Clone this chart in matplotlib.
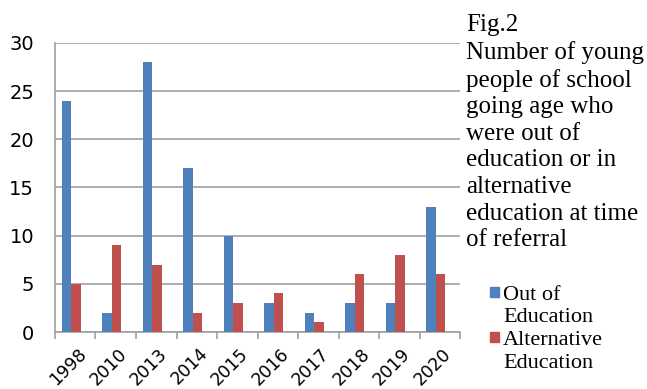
import numpy as np
import matplotlib.pyplot as plt
import matplotlib.transforms as mtransforms
from matplotlib.patches import Rectangle

years = ['1998', '2010', '2013', '2014', '2015', '2016', '2017', '2018', '2019', '2020']
out_of_education = [24, 2, 28, 17, 10, 3, 2, 3, 3, 13]
alternative_education = [5, 9, 7, 2, 3, 4, 1, 6, 8, 6]

blue = '#4f81bd'
red = '#c0504d'
grey = '#a0a0a0'

fig = plt.figure(figsize=(6.47, 3.89), dpi=100)
ax = fig.add_axes([0.085, 0.1465, 0.626, 0.743])

x = np.arange(len(years))
w = 0.235
shift = -0.1
ax.bar(x + shift - w / 2, out_of_education, w, color=blue, zorder=3)
ax.bar(x + shift + w / 2, alternative_education, w, color=red, zorder=3)

ax.set_xlim(-0.5, len(years) - 0.5)
ax.set_ylim(0, 30)
ax.set_yticks(range(0, 31, 5))
ax.yaxis.grid(True, color=grey, linewidth=1.2, zorder=0)
ax.tick_params(axis='y', length=0, pad=15, labelsize=14)

# category boundaries get the tick marks, labels sit on minor ticks
ax.set_xticks(np.arange(len(years) + 1) - 0.5)
ax.set_xticklabels([])
ax.set_xticks(x, minor=True)
ax.set_xticklabels(years, minor=True, rotation=45, ha='right', va='top',
                   rotation_mode='anchor', fontsize=12.5)
ax.tick_params(axis='x', which='major', length=5, width=1.2, color=grey, direction='out')
ax.tick_params(axis='x', which='minor', length=0, pad=9)
off = mtransforms.ScaledTranslation(2 / 100, 0, fig.dpi_scale_trans)
for lbl in ax.get_xticklabels(minor=True):
    lbl.set_transform(lbl.get_transform() + off)

for s in ['top', 'right']:
    ax.spines[s].set_visible(False)
for s in ['left', 'bottom']:
    ax.spines[s].set_color(grey)
    ax.spines[s].set_linewidth(1.2)

serif = ['Liberation Serif', 'DejaVu Serif']
caption = ("Fig.2\nNumber of young\npeople of school\ngoing age who\nwere out of\n"
           "education or in\nalternative\neducation at time\nof referral")
fig.text(466 / 647, 1 - 14 / 389, caption, family=serif, fontsize=18,
         va='top', ha='left', linespacing=1.27)

# legend
legend_labels = ['Out of\nEducation', 'Alternative\nEducation']
legend_colors = [blue, red]
ys = [287, 332]
for lab, col, yy in zip(legend_labels, legend_colors, ys):
    fig.patches.append(Rectangle((490 / 647, 1 - (yy + 10) / 389), 9 / 647, 10 / 389,
                                 transform=fig.transFigure, color=col))
    fig.text(503 / 647, 1 - (yy - 1) / 389, lab, family=serif, fontsize=16,
             va='top', ha='left', linespacing=1.25)

fig.savefig('out.png', dpi=100)
